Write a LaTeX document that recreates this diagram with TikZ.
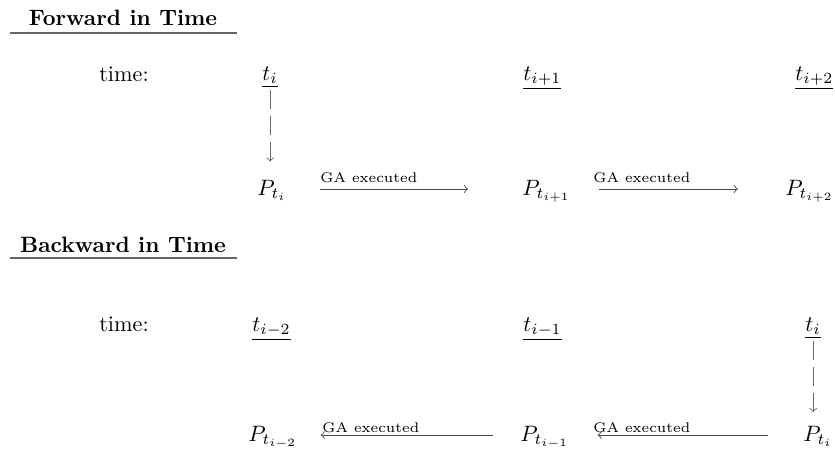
\documentclass[tikz,border=0pt]{standalone}
\usepackage{amsmath}
\usetikzlibrary{arrows.meta}
\begin{document}
\begin{tikzpicture}[x=0.45pt,y=-0.45pt,
  every node/.style={inner sep=0pt},
  head/.style={font=\bfseries, anchor=base},
  tlab/.style={anchor=base},
  tnode/.style={anchor=base west},
  pnode/.style={anchor=base west},
  rulez/.style={draw=black!60, line width=0.7pt},
  garrow/.style={draw=black!70, line width=0.4pt, -to},
  dasharrow/.style={draw=black!60, line width=0.4pt, dash pattern=on 8.5pt off 3pt, -to},
  galabel/.style={font=\fontsize{6.3}{7}\selectfont, anchor=base west}
]
\useasboundingbox (0,0) rectangle (835,457);
% ---------- Forward ----------
\node[head] (h1) at (123,25) {Forward in Time};
\coordinate (r1a) at (10,33);
\coordinate (r1b) at (237,33);
\draw[rulez] (r1a) -- (r1b);
\node[tlab] (time1) at (124,81) {time:};
\node[tnode] (tf0) at (262,80) {$\underline{t_i}$};
\node[tnode] (tf1) at (523,80) {$\underline{t_{i+1}}$};
\node[tnode] (tf2) at (795,80) {$\underline{t_{i+2}}$};
\node[pnode] (pf0) at (257,195) {$P_{t_i}$};
\node[pnode] (pf1) at (522,195) {$P_{t_{i+1}}$};
\node[pnode] (pf2) at (785,195) {$P_{t_{i+2}}$};
\draw[dasharrow, shorten <=1pt, shorten >=8pt] (tf0.south) -- (tf0.south |- pf0.north);
\draw[garrow, shorten <=14.9pt, shorten >=24.3pt] ([yshift=2.7pt]pf0.base east) -- ([yshift=2.7pt]pf1.base west);
\draw[garrow, shorten <=12.6pt, shorten >=21.2pt] ([yshift=2.7pt]pf1.base east) -- ([yshift=2.7pt]pf2.base west);
\node[galabel] (lf1) at (320,182) {GA executed};
\node[galabel] (lf2) at (593,182) {GA executed};
% ---------- Backward ----------
\node[head] (h2) at (123,252) {Backward in Time};
\coordinate (r2a) at (10,258);
\coordinate (r2b) at (237,258);
\draw[rulez] (r2a) -- (r2b);
\node[tlab] (time2) at (124,331) {time:};
\node[tnode] (tb0) at (252,331) {$\underline{t_{i-2}}$};
\node[tnode] (tb1) at (523,331) {$\underline{t_{i-1}}$};
\node[tnode] (tb2) at (805,331) {$\underline{t_i}$};
\node[pnode] (pb0) at (248,441) {$P_{t_{i-2}}$};
\node[pnode] (pb1) at (520,441) {$P_{t_{i-1}}$};
\node[pnode] (pb2) at (803,441) {$P_{t_i}$};
\draw[dasharrow, shorten <=1pt, shorten >=6pt] (tb2.south) -- (tb2.south |- pb2.north);
\draw[garrow, shorten <=12.2pt, shorten >=10.4pt] ([yshift=2.7pt]pb1.base west) -- ([yshift=2.7pt]pb0.base east);
\draw[garrow, shorten <=15.8pt, shorten >=12.6pt] ([yshift=2.7pt]pb2.base west) -- ([yshift=2.7pt]pb1.base east);
\node[galabel] (lb1) at (322,432) {GA executed};
\node[galabel] (lb2) at (593,432) {GA executed};
\end{tikzpicture}
\end{document}
